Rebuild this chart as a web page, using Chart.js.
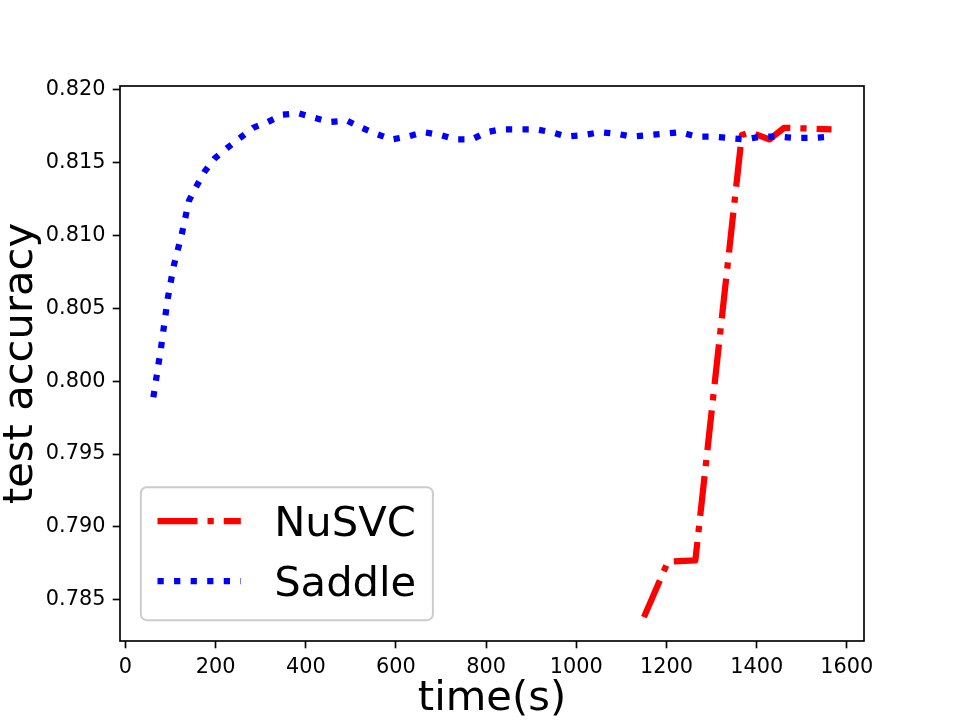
<!DOCTYPE html>
<html>
<head>
<meta charset="utf-8">
<script src="https://cdn.jsdelivr.net/npm/chart.js@4.4.1/dist/chart.umd.min.js"></script>
<style>
html, body { margin: 0; padding: 0; background: #fff; }
</style>
</head>
<body>
<canvas id="chart" width="960" height="720"></canvas>
<script>
// values
var saddleTime = [62, 79, 94, 107, 125, 141, 156, 176, 198, 225, 254, 283, 316, 349, 383, 418, 453, 491, 524, 555, 590, 626, 662, 699, 734, 768, 801, 834, 872, 910, 945, 978, 1016, 1053, 1087, 1122, 1160, 1198, 1231, 1266, 1300, 1337, 1375, 1410, 1448, 1486, 1524, 1565];
var saddleAcc = [0.7989, 0.8023, 0.8057, 0.8079, 0.8101, 0.8124, 0.8133, 0.8144, 0.8153, 0.8160, 0.8167, 0.8174, 0.8178, 0.8183, 0.8184, 0.8181, 0.8178, 0.8179, 0.8174, 0.8170, 0.8166, 0.8168, 0.8171, 0.8169, 0.8166, 0.8166, 0.8171, 0.8173, 0.8173, 0.8173, 0.8171, 0.8168, 0.8169, 0.8171, 0.8170, 0.8168, 0.8169, 0.8170, 0.8171, 0.8168, 0.8168, 0.8167, 0.8166, 0.8168, 0.8168, 0.8167, 0.8167, 0.8168];
var nusvcTime = [1150, 1203, 1264, 1367, 1386, 1428, 1461, 1566];
var nusvcAcc = [0.7838, 0.7876, 0.7877, 0.8169, 0.8171, 0.8166, 0.8174, 0.8173];

var xTicks = [0, 200, 400, 600, 800, 1000, 1200, 1400, 1600];
var yTicks = [0.785, 0.790, 0.795, 0.800, 0.805, 0.810, 0.815, 0.820];
var xRange = [-12, 1638];
var yRange = [0.78216, 0.82027];

var PT = 150 / 72;
var tickFont = { family: 'DejaVu Sans', size: 10 * PT };
var labelFont = { family: 'DejaVu Sans', size: 20 * PT, lineHeight: 1 };

function zip(xs, ys) {
	return xs.map(function (x, i) { return { x: x, y: ys[i] }; });
}

// full box round the plot, like matplotlib spines
var framePlugin = {
	id: 'frame',
	afterDatasetsDraw: function (chart) {
		var a = chart.chartArea;
		var c = chart.ctx;
		c.save();
		c.strokeStyle = '#000';
		c.lineWidth = 0.8 * PT;
		c.strokeRect(a.left, a.top, a.right - a.left, a.bottom - a.top);
		c.restore();
	}
};

// legend box in the lower left corner of the axes
var boxLegend = {
	id: 'boxLegend',
	afterDraw: function (chart) {
		var a = chart.chartArea;
		var c = chart.ctx;
		var fs = 20 * PT;
		var sets = chart.data.datasets;
		c.save();
		c.font = fs + 'px "DejaVu Sans"';
		var tw = 0;
		sets.forEach(function (d) { tw = Math.max(tw, c.measureText(d.label).width); });
		var w = 3.6 * fs + tw;
		var h = 133;
		var x0 = a.left + 0.5 * fs;
		var y0 = a.bottom - 0.5 * fs - h;
		c.beginPath();
		c.roundRect(x0, y0, w, h, 6);
		c.fillStyle = 'rgba(255,255,255,0.8)';
		c.fill();
		c.strokeStyle = '#cccccc';
		c.lineWidth = 2;
		c.stroke();
		var rows = [34, 94];
		sets.forEach(function (d, i) {
			var yy = y0 + rows[i];
			var hx = x0 + 0.4 * fs;
			c.beginPath();
			c.setLineDash(d.borderDash);
			c.lineDashOffset = 0;
			c.lineCap = 'butt';
			c.strokeStyle = d.borderColor;
			c.lineWidth = d.borderWidth;
			c.moveTo(hx, yy);
			c.lineTo(hx + 2 * fs, yy);
			c.stroke();
			c.setLineDash([]);
			c.fillStyle = '#000';
			c.textBaseline = 'alphabetic';
			c.textAlign = 'left';
			c.fillText(d.label, hx + 2.8 * fs, yy + 0.36 * fs);
		});
		c.restore();
	}
};

var ctx = document.getElementById('chart').getContext('2d');
var chart = new Chart(ctx, {
	type: 'line',
	data: {
		datasets: [
			{
				label: 'NuSVC',
				data: zip(nusvcTime, nusvcAcc),
				borderColor: '#ff0000',
				borderWidth: 3 * PT,
				borderDash: [6.4 * 3 * PT, 1.6 * 3 * PT, 1 * 3 * PT, 1.6 * 3 * PT],
				borderCapStyle: 'butt',
				borderJoinStyle: 'round',
				pointRadius: 0,
				fill: false,
				tension: 0,
				order: 1
			},
			{
				label: 'Saddle',
				data: zip(saddleTime, saddleAcc),
				borderColor: '#0000ff',
				borderWidth: 3 * PT,
				borderDash: [1 * 3 * PT, 1.65 * 3 * PT],
				borderCapStyle: 'butt',
				borderJoinStyle: 'round',
				pointRadius: 0,
				fill: false,
				tension: 0,
				order: 0
			}
		]
	},
	options: {
		responsive: false,
		animation: false,
		events: [],
		layout: { padding: { left: 0, top: 86, right: 96, bottom: 0 } },
		plugins: {
			legend: { display: false },
			tooltip: { enabled: false }
		},
		scales: {
			x: {
				type: 'linear',
				min: xRange[0],
				max: xRange[1],
				afterFit: function (s) { s.height = 79; },
				afterBuildTicks: function (s) { s.ticks = xTicks.map(function (v) { return { value: v }; }); },
				grid: { display: true, drawOnChartArea: false, drawTicks: true, tickLength: 3.5 * PT, tickWidth: 0.8 * PT, tickColor: '#000' },
				border: { display: false },
				ticks: { font: tickFont, color: '#000', padding: 3.5 * PT, maxRotation: 0, autoSkip: false,
					callback: function (v) { return String(v); } },
				title: { display: true, text: 'time(s)', font: labelFont, color: '#000', padding: 0 }
			},
			y: {
				type: 'linear',
				min: yRange[0],
				max: yRange[1],
				afterFit: function (s) { s.width = 120; },
				afterBuildTicks: function (s) { s.ticks = yTicks.map(function (v) { return { value: v }; }); },
				grid: { display: true, drawOnChartArea: false, drawTicks: true, tickLength: 3.5 * PT, tickWidth: 0.8 * PT, tickColor: '#000' },
				border: { display: false },
				ticks: { font: tickFont, color: '#000', padding: 3.5 * PT, autoSkip: false,
					callback: function (v) { return v.toFixed(3); } },
				title: { display: true, text: 'test accuracy', font: labelFont, color: '#000', padding: 0 }
			}
		}
	},
	plugins: [framePlugin, boxLegend]
});
</script>
</body>
</html>
